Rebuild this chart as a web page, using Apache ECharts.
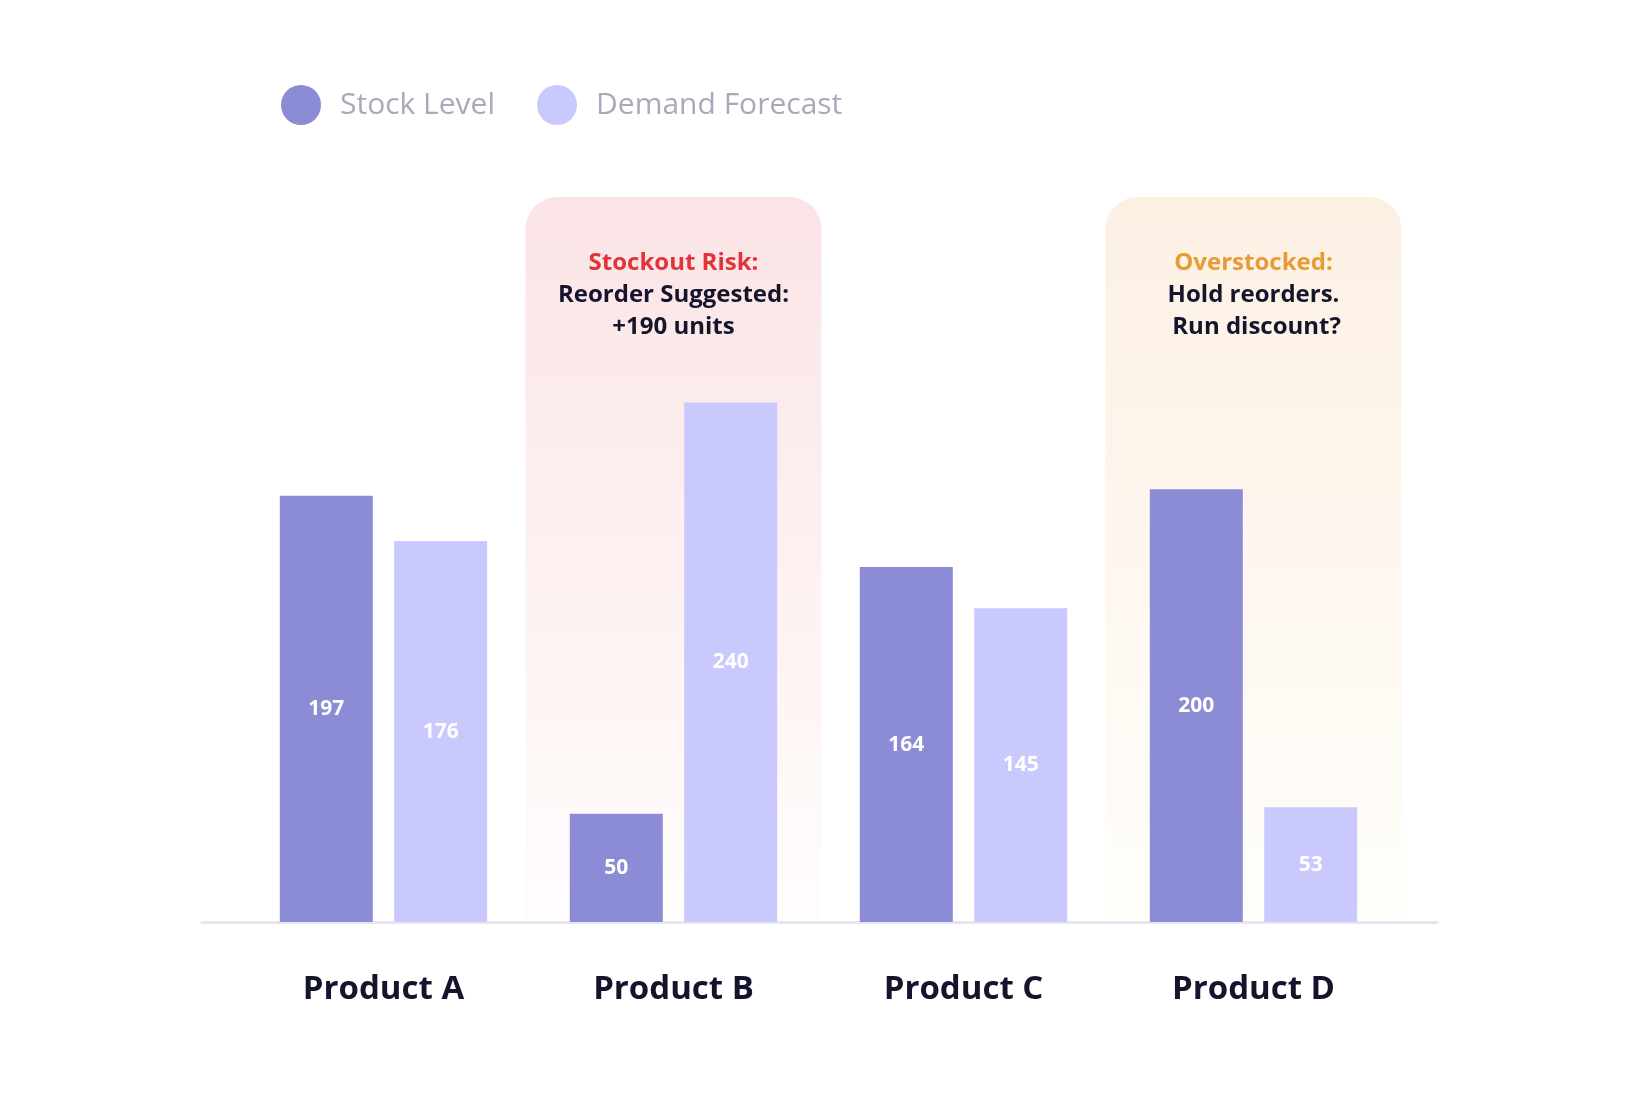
<!DOCTYPE html>
<html>
<head>
<meta charset="utf-8">
<title>Stock vs Demand</title>
<script src="https://cdn.jsdelivr.net/npm/echarts@6/dist/echarts.min.js"></script>
<style>
  html, body { margin: 0; padding: 0; background: #fff; }
  #main { width: 1640px; height: 1094px; }
</style>
</head>
<body>
<div id="main"></div>
<script type="text/javascript">
// data
var categories = ['Product A', 'Product B', 'Product C', 'Product D'];
var stockLevel = [197, 50, 164, 200];
var demandForecast = [176, 240, 145, 53];

// callouts
var noteProducts = ['Product B', 'Product D'];
var noteTitles = ['Stockout Risk:', 'Overstocked:'];
var noteLines = [['Reorder Suggested:', '+190 units'], ['Hold reorders.', ' Run discount?']];
var noteKinds = ['risk', 'over'];

var noteStyle = {
    risk: { title: '#e3333a', top: '#fbe4e5', bottom: '#fffdfc' },
    over: { title: '#e89b35', top: '#fcf0e3', bottom: '#fffefb' }
};

var FONT = '"Open Sans", Lato, sans-serif';
var myChart = echarts.init(document.getElementById('main'));

function renderNote(params, api) {
    var i = params.dataIndex;
    var st = noteStyle[noteKinds[i]];
    var base = api.coord([api.value(0), 0]);
    var band = api.size([1, 0])[0];
    var cs = params.coordSys;
    var x = base[0] - band / 2 - 3;
    var w = band + 6;
    return {
        type: 'group',
        children: [
            {
                type: 'rect',
                shape: { x: x, y: cs.y, width: w, height: base[1] - cs.y - 2, r: [32, 32, 0, 0] },
                style: {
                    fill: new echarts.graphic.LinearGradient(0, 0, 0, 1, [
                        { offset: 0, color: st.top },
                        { offset: 1, color: st.bottom }
                    ])
                }
            },
            {
                type: 'text',
                x: base[0],
                y: cs.y + 50,
                style: {
                    text: '{t|' + noteTitles[i] + '}\n' + noteLines[i].map(function (l) { return '{b|' + l + '}'; }).join('\n'),
                    align: 'center',
                    verticalAlign: 'top',
                    font: 'bold 24px ' + FONT,
                    rich: {
                        t: { fontSize: 24, fontWeight: 'bold', fill: st.title, lineHeight: 32, fontFamily: FONT },
                        b: { fontSize: 24, fontWeight: 'bold', fill: '#14152c', lineHeight: 32, fontFamily: FONT }
                    }
                }
            }
        ]
    };
}

var option = {
    backgroundColor: '#ffffff',
    animation: false,
    legend: {
        data: ['Stock Level', 'Demand Forecast'],
        left: 276,
        top: 80,
        icon: 'circle',
        itemWidth: 40,
        itemHeight: 40,
        itemGap: 42,
        textStyle: { fontFamily: FONT, fontSize: 30, color: '#a9a9bb', padding: [0, 0, 0, 14] }
    },
    grid: [
        { left: 238.5, width: 1160, top: 197, bottom: 172 },
        { left: 202, width: 1235, top: 197, bottom: 172 }
    ],
    xAxis: [
        {
            type: 'category',
            data: categories,
            gridIndex: 0,
            axisLine: { show: false },
            axisTick: { show: false },
            axisLabel: { margin: 51, fontFamily: FONT, fontSize: 33, fontWeight: 'bold', color: '#14152c' }
        },
        {
            type: 'value',
            gridIndex: 1,
            min: 0,
            max: 1,
            axisLine: { show: true, onZero: false, lineStyle: { color: '#e7e6ef', width: 3 } },
            axisTick: { show: false },
            axisLabel: { show: false },
            splitLine: { show: false }
        }
    ],
    yAxis: [
        { type: 'value', gridIndex: 0, min: 0, max: 335, show: false },
        { type: 'value', gridIndex: 1, min: 0, max: 1, show: false }
    ],
    series: [
        {
            name: 'Notes',
            type: 'custom',
            xAxisIndex: 0,
            yAxisIndex: 0,
            z: 1,
            silent: true,
            renderItem: renderNote,
            data: noteProducts.map(function (p) { return [categories.indexOf(p)]; })
        },
        {
            name: 'Stock Level',
            type: 'bar',
            z: 3,
            barWidth: 93,
            barGap: '23%',
            itemStyle: { color: '#8b8bd6' },
            label: { show: true, position: 'inside', color: '#ffffff', fontFamily: FONT, fontSize: 21, fontWeight: 'bold' },
            data: stockLevel
        },
        {
            name: 'Demand Forecast',
            type: 'bar',
            z: 3,
            barWidth: 93,
            barGap: '23%',
            itemStyle: { color: '#c9c9fd' },
            label: { show: true, position: 'inside', color: '#ffffff', fontFamily: FONT, fontSize: 21, fontWeight: 'bold' },
            data: demandForecast
        }
    ]
};
myChart.setOption(option);
</script>
</body>
</html>
